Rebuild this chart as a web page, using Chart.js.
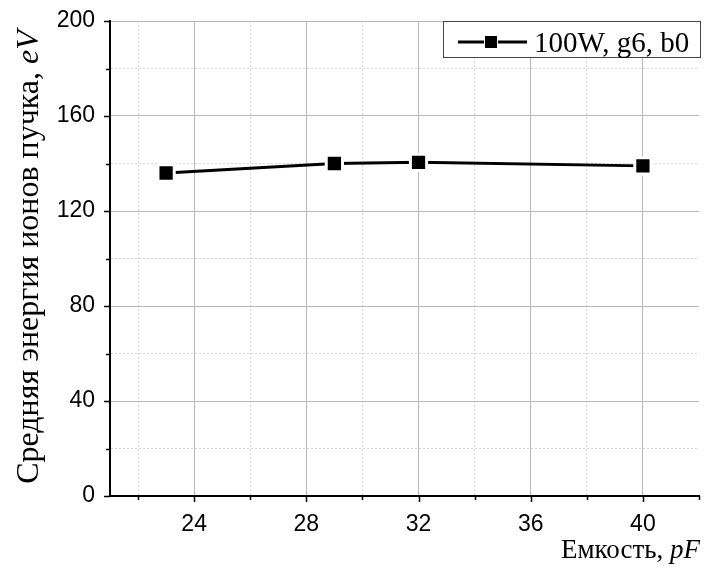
<!DOCTYPE html>
<html>
<head>
<meta charset="utf-8">
<script src="https://cdn.jsdelivr.net/npm/chart.js@4/dist/chart.umd.min.js"></script>
<style>
  body { margin: 0; background: #fff; }
  canvas { display: block; }
</style>
</head>
<body>
<canvas id="energyChart" width="704" height="573"></canvas>
<script>
// capacitance (pF) and mean beam ion energy (eV)
const capacitance = [23, 29, 32, 40];
const meanEnergy = [136, 140, 140.5, 139];
const seriesLabel = "100W, g6, b0";

const xTickLabels = [24, 28, 32, 36, 40];
const xMinorTicks = [22, 26, 30, 34, 38, 42];
const yTickLabels = [0, 40, 80, 120, 160, 200];
const yMinorTicks = [20, 60, 100, 140, 180];

const serif = "'Liberation Serif', 'Times New Roman', serif";
const sans = "'Liberation Sans', Arial, sans-serif";

const isMajorX = (v) => xTickLabels.includes(v);
const isMajorY = (v) => yTickLabels.includes(v);

// draws tick marks, axis titles and the framed legend
const extras = {
    id: "extras",
    afterDraw(chart) {
        const ctx = chart.ctx;
        const xs = chart.scales.x;
        const ys = chart.scales.y;
        const area = chart.chartArea;

        ctx.save();
        ctx.strokeStyle = "#000";
        ctx.lineWidth = 1.5;
        xs.ticks.forEach((t) => {
            const px = Math.round(xs.getPixelForValue(t.value)) + 0.5;
            const len = isMajorX(t.value) ? 6 : 4;
            ctx.beginPath();
            ctx.moveTo(px, area.bottom);
            ctx.lineTo(px, area.bottom + len);
            ctx.stroke();
        });
        ys.ticks.forEach((t) => {
            const py = Math.round(ys.getPixelForValue(t.value)) + 0.5;
            const len = isMajorY(t.value) ? 6 : 4;
            ctx.beginPath();
            ctx.moveTo(area.left, py);
            ctx.lineTo(area.left - len, py);
            ctx.stroke();
        });

        // y title, rotated, with italic unit
        ctx.fillStyle = "#000";
        ctx.textBaseline = "alphabetic";
        ctx.textAlign = "left";
        const yMain = "Средняя энергия ионов пучка, ";
        const yUnit = "eV";
        ctx.font = "32px " + serif;
        const w1 = ctx.measureText(yMain).width;
        ctx.font = "italic 32px " + serif;
        const w2 = ctx.measureText(yUnit).width;
        ctx.save();
        ctx.translate(38, 257);
        ctx.rotate(-Math.PI / 2);
        const start = -(w1 + w2) / 2;
        ctx.font = "32px " + serif;
        ctx.fillText(yMain, start, 0);
        ctx.font = "italic 32px " + serif;
        ctx.fillText(yUnit, start + w1, 0);
        ctx.restore();

        // x title, right aligned
        const xMain = "Емкость, ";
        const xUnit = "pF";
        ctx.font = "italic 27px " + serif;
        const u = ctx.measureText(xUnit).width;
        ctx.fillText(xUnit, 700 - u, 558);
        ctx.font = "27px " + serif;
        const m = ctx.measureText(xMain).width;
        ctx.fillText(xMain, 700 - u - m, 558);

        // legend box
        const lx = 443, ly = 21, lw = 258, lh = 37;
        ctx.fillStyle = "#fff";
        ctx.fillRect(lx, ly, lw, lh);
        ctx.strokeStyle = "#444";
        ctx.lineWidth = 1;
        ctx.strokeRect(lx + 0.5, ly + 0.5, lw - 1, lh - 1);
        const my = ly + 21;
        ctx.strokeStyle = "#000";
        ctx.lineWidth = 3;
        ctx.beginPath();
        ctx.moveTo(458, my);
        ctx.lineTo(484, my);
        ctx.moveTo(498, my);
        ctx.lineTo(527, my);
        ctx.stroke();
        ctx.fillStyle = "#000";
        ctx.fillRect(485, my - 6, 12, 12);
        ctx.font = "29px " + serif;
        ctx.fillText(chart.data.datasets[0].label, 534, 52);
        ctx.restore();
    }
};

const ctx = document.getElementById("energyChart").getContext("2d");

const chart = new Chart(ctx, {
    type: "line",
    data: {
        datasets: [
            {
                label: seriesLabel,
                data: capacitance.map((c, i) => ({ x: c, y: meanEnergy[i] })),
                borderColor: "#000",
                borderWidth: 3,
                backgroundColor: "#000",
                pointStyle: "rect",
                pointRadius: 11.5,
                pointBorderColor: "#fff",
                pointBorderWidth: 3,
                tension: 0,
            },
        ],
    },
    options: {
        responsive: false,
        animation: false,
        layout: {
            autoPadding: false,
            padding: { left: 0, right: 5, top: 21, bottom: 0 },
        },
        plugins: {
            legend: { display: false },
            tooltip: { enabled: false },
        },
        scales: {
            x: {
                type: "linear",
                min: 21,
                max: 42,
                afterBuildTicks: (scale) => {
                    scale.ticks = xTickLabels.concat(xMinorTicks)
                        .sort((a, b) => a - b)
                        .map((v) => ({ value: v }));
                },
                afterFit: (scale) => {
                    scale.height = 77;
                    scale.paddingLeft = 0;
                    scale.paddingRight = 0;
                },
                ticks: {
                    autoSkip: false,
                    maxRotation: 0,
                    padding: 15,
                    color: "#000",
                    font: { family: sans, size: 23 },
                    callback: (v) => (isMajorX(v) ? String(v) : ""),
                },
                grid: {
                    drawTicks: false,
                    lineWidth: 1,
                    color: (c) => {
                        if (!c.tick) return "#b8b8b8";
                        if (c.tick.value === 42) return "rgba(0,0,0,0)";
                        return isMajorX(c.tick.value) ? "#b8b8b8" : "#d6d6d6";
                    },
                },
                border: {
                    color: "#000",
                    width: 2,
                    dash: (c) => (c.tick && !isMajorX(c.tick.value) ? [2, 2] : []),
                },
            },
            y: {
                type: "linear",
                min: 0,
                max: 200,
                afterBuildTicks: (scale) => {
                    scale.ticks = yTickLabels.concat(yMinorTicks)
                        .sort((a, b) => a - b)
                        .map((v) => ({ value: v }));
                },
                afterFit: (scale) => {
                    scale.width = 110;
                    scale.paddingTop = 0;
                    scale.paddingBottom = 0;
                },
                ticks: {
                    autoSkip: false,
                    padding: 15,
                    color: "#000",
                    font: { family: sans, size: 23 },
                    callback: (v) => (isMajorY(v) ? String(v) : ""),
                },
                grid: {
                    drawTicks: false,
                    lineWidth: 1,
                    color: (c) => {
                        if (!c.tick) return "#b8b8b8";
                        return isMajorY(c.tick.value) ? "#b8b8b8" : "#d6d6d6";
                    },
                },
                border: {
                    color: "#000",
                    width: 2,
                    dash: (c) => (c.tick && !isMajorY(c.tick.value) ? [2, 2] : []),
                },
            },
        },
    },
    plugins: [extras],
});
</script>
</body>
</html>
